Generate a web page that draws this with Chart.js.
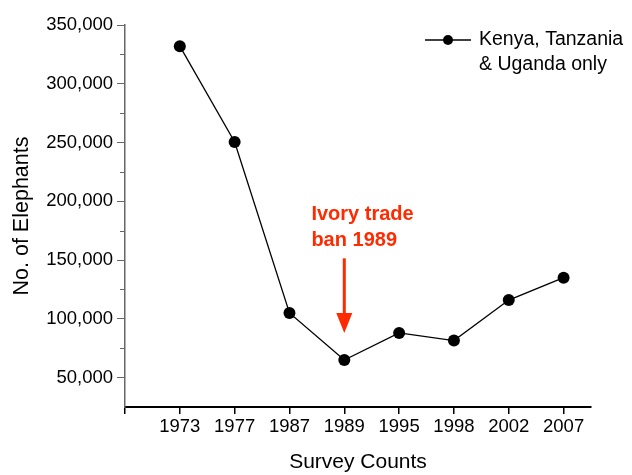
<!DOCTYPE html>
<html>
<head>
<meta charset="utf-8">
<script src="https://cdn.jsdelivr.net/npm/chart.js@4"></script>
<style>
  html, body { margin: 0; padding: 0; background: #fff; }
  #wrap { width: 632px; height: 475px; }
</style>
</head>
<body>
<div id="wrap"><canvas id="c" width="632" height="475"></canvas></div>
<script>
// survey years and counts
const years = ['1973', '1977', '1987', '1989', '1995', '1998', '2002', '2007'];
const elephants = [332000, 250500, 105000, 65000, 88000, 81500, 116000, 135000];
const seriesLabel = ['Kenya, Tanzania', '& Uganda only'];
const noteLines = ['Ivory trade', 'ban 1989'];

const FONT = '"Liberation Sans", Arial, sans-serif';

// x positions 1..8 for the years, 0 is the empty slot at the left
const points = elephants.map((v, i) => ({ x: i + 1, y: v }));

// minor ticks on the y axis, custom legend and the red note
const extras = {
    id: 'extras',
    afterDraw(chart) {
        const ctx = chart.ctx;
        const xs = chart.scales.x, ys = chart.scales.y;
        ctx.save();

        // minor ticks (short)
        ctx.strokeStyle = '#666';
        ctx.lineWidth = 1;
        for (let v = 75000; v < 350000; v += 50000) {
            const py = Math.round(ys.getPixelForValue(v)) + 0.5;
            ctx.beginPath();
            ctx.moveTo(xs.left - 5, py);
            ctx.lineTo(xs.left, py);
            ctx.stroke();
        }

        // legend
        const lx = 425, ly = 40;
        ctx.strokeStyle = '#000';
        ctx.lineWidth = 1.5;
        ctx.beginPath();
        ctx.moveTo(lx, ly);
        ctx.lineTo(lx + 46, ly);
        ctx.stroke();
        ctx.fillStyle = '#000';
        ctx.beginPath();
        ctx.arc(lx + 23, ly, 5, 0, Math.PI * 2);
        ctx.fill();
        ctx.font = '19.5px ' + FONT;
        ctx.textBaseline = 'middle';
        ctx.textAlign = 'left';
        seriesLabel.forEach((t, i) => ctx.fillText(t, lx + 54, ly + i * 25));

        // note + arrow
        const red = '#ff2a00';
        const ax = xs.getPixelForValue(4);
        ctx.fillStyle = red;
        ctx.font = 'bold 20px ' + FONT;
        noteLines.forEach((t, i) => ctx.fillText(t, xs.getPixelForValue(3.4), ys.getPixelForValue(188500 - i * 21500)));
        const top = ys.getPixelForValue(151500), tip = ys.getPixelForValue(88000);
        ctx.strokeStyle = red;
        ctx.lineWidth = 3;
        ctx.beginPath();
        ctx.moveTo(ax, top);
        ctx.lineTo(ax, tip - 18);
        ctx.stroke();
        ctx.beginPath();
        ctx.moveTo(ax - 8, tip - 20);
        ctx.lineTo(ax + 8, tip - 20);
        ctx.lineTo(ax, tip);
        ctx.closePath();
        ctx.fill();

        ctx.restore();
    }
};

new Chart(document.getElementById('c'), {
    type: 'line',
    data: {
        datasets: [{
            label: seriesLabel.join(' '),
            data: points,
            borderColor: '#000',
            borderWidth: 1.3,
            backgroundColor: '#000',
            pointRadius: 6,
            pointBackgroundColor: '#000',
            pointBorderWidth: 0,
            tension: 0
        }]
    },
    options: {
        responsive: false,
        animation: false,
        layout: { padding: { top: 25, right: 41, left: 0, bottom: 0 } },
        plugins: { legend: { display: false }, tooltip: { enabled: false } },
        scales: {
            x: {
                type: 'linear',
                min: 0,
                max: 8.5,
                afterBuildTicks: s => { s.ticks = years.map((_, i) => ({ value: i })).concat([{ value: years.length }]); },
                afterFit: s => { s.height = 68; },
                border: { display: true, color: '#000', width: 2 },
                grid: { display: true, drawOnChartArea: false, drawTicks: true, tickLength: 7, color: '#000', lineWidth: 1.5 },
                ticks: {
                    color: '#000',
                    font: { family: FONT, size: 18.5 },
                    padding: 2,
                    maxRotation: 0,
                    autoSkip: false,
                    callback: v => years[v - 1] || ''
                },
                title: {
                    display: true,
                    text: 'Survey Counts',
                    color: '#000',
                    font: { family: FONT, size: 21 },
                    padding: { top: 0, bottom: 0 }
                }
            },
            y: {
                min: 25000,
                max: 350000,
                afterFit: s => { s.width = 125; },
                border: { display: true, color: '#666', width: 1.5 },
                grid: {
                    display: true, drawOnChartArea: false, drawTicks: true, tickLength: 8, lineWidth: 1,
                    tickColor: c => (c.tick && c.tick.value % 50000 === 0) ? '#666' : 'rgba(0,0,0,0)'
                },
                ticks: {
                    stepSize: 25000,
                    color: '#000',
                    font: { family: FONT, size: 18.5 },
                    padding: 4,
                    callback: v => (v % 50000 === 0) ? v.toLocaleString('en-US') : ''
                },
                title: {
                    display: true,
                    text: 'No. of Elephants',
                    color: '#000',
                    font: { family: FONT, size: 21.5 },
                    padding: { top: 9, bottom: 0 }
                }
            }
        }
    },
    plugins: [extras]
});
</script>
</body>
</html>
